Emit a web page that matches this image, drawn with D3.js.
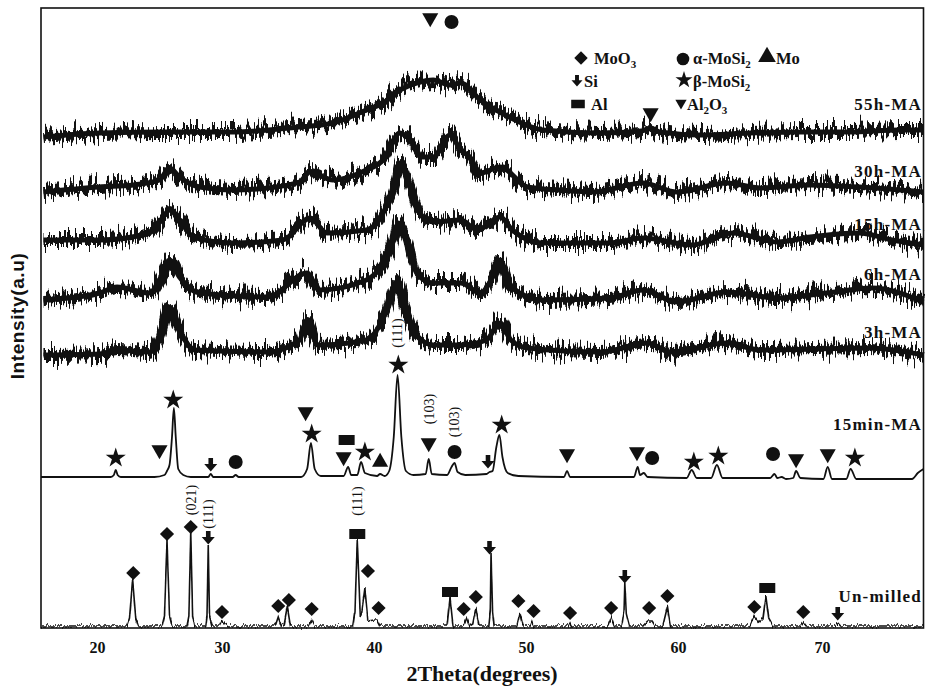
<!DOCTYPE html>
<html>
<head>
<meta charset="utf-8">
<title>XRD patterns</title>
<script src="https://cdn.jsdelivr.net/npm/d3@7"></script>
<style>
    body { margin: 0; background: #fff; }
    text { font-family: "Liberation Serif", "Times New Roman", serif; font-weight: bold; fill: #111; }
</style>
</head>
<body>
<svg width="925" height="693"></svg>
<script>
    // ---- data (2theta in degrees, intensity in a.u. above each pattern's own baseline) ----
    var tickLabels = [20, 30, 40, 50, 60, 70];
    var traceNames = ["Un-milled", "15min-MA", "3h-MA", "6h-MA", "15h-MA", "30h-MA", "55h-MA"];
    var traceOffsets = [2, 151, 275, 328, 388, 438, 495];

    var unmilled = [[15.5,0],[22.4,0],[22.6,8],[22.85,46],[23.1,8],[23.3,0],[25.2,0],[25.4,10],[25.6,86],[25.8,10],[26.0,0],
        [27.2,0],[27.35,10],[27.5,94],[27.65,10],[27.8,0],[28.7,0],[28.8,10],[28.9,81],[29.0,10],[29.2,0],[29.8,0],[30.0,5],[30.2,2],[30.4,0],
        [33.5,0],[33.7,9],[33.9,0],[34.1,2],[34.3,19],[34.5,0],[35.7,0],[35.9,6],[36.1,0],[38.6,0],[38.75,15],[38.9,86],[39.1,10],[39.2,15],
        [39.4,38],[39.6,5],[40.0,6],[40.2,6],[40.4,0],[44.8,0],[45.0,29],[45.2,0],[45.9,0],[46.1,8],[46.3,0],[46.5,2],[46.7,18],[46.9,0],
        [47.55,0],[47.65,15],[47.7,73],[47.8,15],[47.9,0],[49.4,0],[49.6,13],[49.8,0],[50.3,0],[50.4,4],[50.5,0],[52.8,0],[52.9,3],[53.0,0],
        [55.4,0],[55.6,8],[55.8,0],[56.3,0],[56.45,15],[56.5,44],[56.6,12],[56.8,0],[57.7,0],[58.0,5],[58.3,5],[58.5,0],[59.0,0],[59.3,19],
        [59.5,0],[65.0,0],[65.3,10],[65.6,4],[65.9,8],[66.1,30],[66.3,8],[66.6,0],[68.5,0],[68.7,4],[68.9,0],[70.9,0],[71.1,3],[71.3,0],[77.1,0]];

    var min15 = [[15.5,0],[21.1,0],[21.35,2],[21.5,7],[21.65,2],[21.9,0],[24.6,0],[25.4,2],[25.6,6],[25.8,12],[26.0,40],[26.15,69],
        [26.3,40],[26.5,8],[26.9,2],[27.5,0],[28.9,0],[29.1,3],[29.3,0],[30.7,0],[30.9,2],[31.1,0],[35.2,0],[35.6,8],[35.85,34],[36.1,8],
        [36.5,1],[38.0,1],[38.3,10],[38.5,2],[38.9,2],[39.15,15],[39.4,4],[40.2,1],[40.4,3],[40.7,1],[41.0,6],[41.3,40],[41.55,102],
        [41.8,40],[42.1,6],[42.6,2],[43.4,3],[43.6,18],[43.8,3],[44.8,2],[45.1,10],[45.3,14],[45.5,5],[46.0,2],[47.4,3],[47.6,5],
        [47.8,6],[48.05,30],[48.25,42],[48.45,20],[48.8,4],[49.5,1],[52.5,0],[52.7,6],[52.9,0],[57.1,0],[57.35,10],[57.5,2],[57.75,4],
        [58.0,0],[60.6,-1],[60.95,7],[61.3,-1],[62.3,-1],[62.7,12],[63.1,-1],[66.4,-1],[66.7,3],[66.9,-1],[67.2,0],[67.5,-2],[68.0,-1],
        [68.2,6],[68.5,-1],[70.1,-2],[70.4,10],[70.7,-2],[71.7,-2],[72.0,8],[72.4,-2],[76.3,-2],[76.7,4],[77.1,8]];

    var h3 = [[15.7,-2],[20.2,-1],[21.6,3],[24.2,1],[25.0,13],[25.8,46],[26.6,23],[27.8,3],[33.0,1],[35.1,13],[35.6,33],[36.3,8],
        [39.5,13],[40.7,38],[41.5,71],[42.0,48],[42.8,18],[43.9,8],[45.7,8],[47.4,13],[48.3,30],[49.0,13],[50.1,5],[54.9,1],[58.0,10],
        [59.5,1],[63.4,10],[65.7,3],[73.3,5],[77.1,-2]];

    var h6 = [[15.7,0],[20.2,7],[21.6,13],[24.2,7],[25.3,27],[25.8,40],[26.6,23],[28.2,7],[33.0,3],[35.6,27],[36.4,10],[39.5,20],
        [40.6,37],[41.3,60],[41.6,77],[42.2,60],[42.8,27],[43.9,17],[45.7,17],[47.0,7],[47.8,23],[48.3,40],[49.0,13],[51.1,0],[55.5,2],
        [57.7,10],[59.9,-2],[63.4,8],[66.9,2],[70.3,7],[73.5,12],[77.1,-2]];

    var h15 = [[15.7,0],[20.2,0],[24.2,7],[25.3,23],[25.8,30],[26.6,20],[27.7,3],[30.7,-3],[34.0,0],[35.8,22],[36.9,7],[39.5,10],
        [40.6,27],[41.5,63],[41.7,77],[42.4,53],[43.0,27],[43.9,18],[45.7,20],[46.8,10],[48.3,23],[49.1,10],[51.1,-3],[55.5,-3],
        [57.7,2],[61.0,-5],[63.8,7],[66.9,-2],[69.2,3],[72.6,7],[74.9,0],[77.1,-5]];

    var h30 = [[15.7,-2],[20.2,3],[22.9,5],[25.0,10],[25.8,22],[26.6,13],[28.2,3],[30.7,0],[33.0,2],[35.1,8],[35.8,18],[37.3,10],
        [39.5,20],[40.6,30],[41.7,57],[42.4,50],[43.2,33],[43.9,33],[45.0,55],[45.7,40],[46.3,33],[47.0,17],[48.3,23],[50.1,3],
        [52.2,0],[54.4,-2],[57.7,7],[59.9,-2],[63.4,7],[65.7,2],[69.2,5],[72.6,3],[77.1,-2]];

    var h55 = [[15.7,-4],[20.2,0],[25.6,1],[30.7,1],[35.1,6],[37.3,10],[39.5,23],[40.6,30],[41.7,43],[42.8,50],[43.9,53],[45.0,48],
        [45.7,50],[47.0,33],[48.9,16],[51.1,3],[54.9,0],[57.6,2],[58.2,5],[58.8,1],[61.5,-2],[65.0,0],[68.5,1],[71.9,1],[75.4,3],[77.1,3]];

    var traceData = [unmilled, min15, h3, h6, h15, h30, h55];

    // phase markers: [trace index, 2theta, height, phase]
    var phaseMarks = [
        [0,22.9,53,"MoO3"],[0,25.6,92,"MoO3"],[0,27.5,99,"MoO3"],[0,28.9,88,"Si"],[0,30.0,14,"MoO3"],[0,33.7,20,"MoO3"],
        [0,34.4,26,"MoO3"],[0,35.9,17,"MoO3"],[0,38.9,92,"Al"],[0,39.6,55,"MoO3"],[0,40.3,18,"MoO3"],[0,45.0,34,"Al"],
        [0,45.9,17,"MoO3"],[0,46.7,29,"MoO3"],[0,47.6,78,"Si"],[0,49.5,25,"MoO3"],[0,50.5,15,"MoO3"],[0,52.9,13,"MoO3"],
        [0,55.6,18,"MoO3"],[0,56.5,49,"Si"],[0,58.1,18,"MoO3"],[0,59.3,30,"MoO3"],[0,65.3,19,"MoO3"],[0,66.2,38,"Al"],
        [0,68.7,14,"MoO3"],[0,71.1,12,"Si"],
        [1,21.5,19,"b-MoSi2"],[1,25.0,27,"Al2O3"],[1,26.1,77,"b-MoSi2"],[1,29.1,12,"Si"],[1,30.9,15,"a-MoSi2"],[1,35.5,65,"Al2O3"],
        [1,35.9,43,"b-MoSi2"],[1,38.2,37,"Al"],[1,38.0,20,"Al2O3"],[1,39.4,25,"b-MoSi2"],[1,40.4,15,"Mo"],[1,41.6,112,"b-MoSi2"],
        [1,43.6,34,"Al2O3"],[1,45.3,25,"a-MoSi2"],[1,47.5,15,"Si"],[1,48.4,52,"b-MoSi2"],[1,52.7,23,"Al2O3"],[1,57.3,25,"Al2O3"],
        [1,58.3,19,"a-MoSi2"],[1,61.1,15,"b-MoSi2"],[1,62.8,21,"b-MoSi2"],[1,66.6,23,"a-MoSi2"],[1,68.2,18,"Al2O3"],
        [1,70.4,23,"Al2O3"],[1,72.3,19,"b-MoSi2"],
        [6,43.7,115,"Al2O3"],[6,45.1,111,"a-MoSi2"],[6,58.2,20,"Al2O3"]];

    // Miller indices: [trace index, 2theta, height, text]
    var hklLabels = [[1,41.55,144,"(111)"],[1,43.6,68,"(103)"],[1,45.3,55,"(103)"],
        [0,27.5,126,"(021)"],[0,28.9,112,"(111)"],[0,38.9,125,"(111)"]];

    var phaseSymbols = {"MoO3": "diamond", "Si": "arrow", "Al": "rect", "a-MoSi2": "circle",
        "b-MoSi2": "star", "Al2O3": "down", "Mo": "up"};
    var legendPhases = ["MoO3", "a-MoSi2", "Mo", "Si", "b-MoSi2", "Al", "Al2O3"];
    var legendTexts = ["MoO_3", "\u03b1-MoSi_2", "Mo", "Si", "\u03b2-MoSi_2", "Al", "Al_2O_3"];

    // ---- layout ----
    var frame = {left: 41, top: 8, right: 923.5, bottom: 628};
    var svg = d3.select("svg");

    // the printed axis is not evenly spaced, so the scale uses several segments
    var xScale = d3.scaleLinear()
        .domain([15.5, 20, 30, 40, 50, 60, 70, 77.1])
        .range([frame.left, 97, 222, 374, 526, 678, 822, frame.right]);
    var yScale = d3.scaleLinear()
        .domain([0, 620])
        .range([frame.bottom, frame.bottom - 620]);

    var labelPos = [[922, 602], [922, 430], [922, 338], [922, 280], [922, 230], [922, 177], [922, 110]];
    var legendPos = [[581, 58, 594, 64], [683, 59, 693, 64], [767, 57, 776, 64],
        [577, 81, 584, 87], [684, 80, 693, 87], [578, 104, 591, 110], [681, 103, 687, 110]];

    // noise texture filters for the measured bands
    var defs = svg.append("defs");
    function roughFilter(id, freq, scale, seed) {
        var f = defs.append("filter").attr("id", id)
            .attr("filterUnits", "userSpaceOnUse")
            .attr("x", 0).attr("y", 0).attr("width", 925).attr("height", 693)
            .attr("color-interpolation-filters", "sRGB");
        f.append("feTurbulence").attr("type", "fractalNoise").attr("baseFrequency", freq)
            .attr("numOctaves", 2).attr("seed", seed).attr("result", "noise");
        f.append("feColorMatrix").attr("in", "noise").attr("type", "matrix")
            .attr("values", "0 0 0 0 0.5  0 1 0 0 0  0 0 0 0 0  0 0 0 0 1").attr("result", "map");
        f.append("feDisplacementMap").attr("in", "SourceGraphic").attr("in2", "map")
            .attr("scale", scale).attr("xChannelSelector", "R").attr("yChannelSelector", "G");
    }
    roughFilter("rough", "0.45 0.02", 32, 7);
    roughFilter("rough2", "0.7 0.05", 7, 3);

    // frame
    svg.append("rect")
        .attr("x", frame.left).attr("y", frame.top)
        .attr("width", frame.right - frame.left).attr("height", frame.bottom - frame.top)
        .attr("fill", "none").attr("stroke", "#111").attr("stroke-width", 1.6);

    // x axis labels
    var xAxis = d3.axisBottom(xScale).tickValues(tickLabels).tickSize(0).tickPadding(14);
    var gx = svg.append("g").attr("transform", "translate(0," + frame.bottom + ")").call(xAxis);
    gx.select(".domain").remove();
    gx.selectAll("text")
        .style("font-family", "'Liberation Serif', serif")
        .style("font-weight", "bold").style("font-size", "16px").attr("fill", "#111");

    svg.append("text")
        .attr("x", 482).attr("y", 681)
        .attr("text-anchor", "middle")
        .style("font-size", "22px")
        .text("2Theta(degrees)");

    svg.append("text")
        .attr("transform", "translate(24,316) rotate(-90)")
        .attr("text-anchor", "middle")
        .style("font-family", "'Liberation Sans', Arial, sans-serif")
        .style("font-size", "19px").style("letter-spacing", "0.6px")
        .text("Intensity(a.u)");

    // patterns
    function lineFor(k, curve) {
        return d3.line()
            .x(function (d) { return xScale(d[0]); })
            .y(function (d) { return yScale(traceOffsets[k] + d[1]); })
            .curve(curve);
    }

    // solid core of each noisy band, then the rough outer part
    var core = svg.append("g");
    var noisy = svg.append("g").attr("filter", "url(#rough)");
    for (var k = 2; k < traceData.length; k++) {
        core.append("path")
            .datum(traceData[k])
            .attr("d", lineFor(k, d3.curveMonotoneX))
            .attr("fill", "none").attr("stroke", "#111")
            .attr("stroke-width", 5).attr("stroke-linejoin", "round");
        noisy.append("path")
            .datum(traceData[k])
            .attr("d", lineFor(k, d3.curveMonotoneX))
            .attr("fill", "none").attr("stroke", "#111")
            .attr("stroke-width", 10).attr("stroke-linejoin", "round");
    }

    svg.append("path")
        .datum(min15)
        .attr("d", lineFor(1, d3.curveMonotoneX))
        .attr("fill", "none").attr("stroke", "#111").attr("stroke-width", 1.8);

    svg.append("g").attr("filter", "url(#rough2)")
        .append("path")
        .datum(unmilled)
        .attr("d", lineFor(0, d3.curveLinear))
        .attr("fill", "none").attr("stroke", "#111").attr("stroke-width", 1.6);

    // pattern names
    svg.selectAll(".tname")
        .data(traceNames)
        .enter().append("text")
        .attr("class", "tname")
        .attr("x", function (d, i) { return labelPos[i][0]; })
        .attr("y", function (d, i) { return labelPos[i][1]; })
        .attr("text-anchor", "end")
        .style("font-size", "17px").style("letter-spacing", "1.2px")
        .text(function (d) { return d; });

    // phase symbols
    function drawSymbol(g, type, cx, cy, s) {
        var p;
        if (type === "star") {
            p = g.append("path").attr("d", d3.symbol().type(d3.symbolStar).size(125 * s * s)());
        } else if (type === "down" || type === "up") {
            p = g.append("path").attr("d", d3.symbol().type(d3.symbolTriangle).size(112 * s * s)());
            if (type === "down") p.attr("transform", "rotate(180)");
        } else if (type === "circle") {
            p = g.append("path").attr("d", d3.symbol().type(d3.symbolCircle).size(154 * s * s)());
        } else if (type === "diamond") {
            p = g.append("path").attr("d", d3.symbol().type(d3.symbolSquare).size(100 * s * s)())
                .attr("transform", "rotate(45)");
        } else if (type === "rect") {
            p = g.append("rect").attr("x", -8 * s).attr("y", -5 * s).attr("width", 16 * s).attr("height", 10 * s);
        } else if (type === "arrow") {
            p = g.append("path").attr("d", "M-2.3,-7 h4.6 v6 h4.2 l-6.5,7.5 l-6.5,-7.5 h4.2 z")
                .attr("transform", "scale(" + s + ")");
        }
        p.attr("fill", "#111");
        g.attr("transform", "translate(" + cx + "," + cy + ")");
    }

    phaseMarks.forEach(function (m) {
        var g = svg.append("g");
        drawSymbol(g, phaseSymbols[m[3]], xScale(m[1]), yScale(traceOffsets[m[0]] + m[2]), 1);
    });

    hklLabels.forEach(function (h) {
        svg.append("text")
            .attr("transform", "translate(" + xScale(h[1]) + "," + yScale(traceOffsets[h[0]] + h[2]) + ") rotate(-90)")
            .attr("text-anchor", "middle").attr("dy", "0.35em")
            .style("font-size", "14px").style("font-weight", "normal")
            .text(h[3]);
    });

    // legend
    var legendScale = {"MoO3": 0.95, "a-MoSi2": 0.9, "Mo": 1.1, "Si": 0.85, "b-MoSi2": 0.85, "Al": 0.85, "Al2O3": 0.7};
    legendPhases.forEach(function (ph, i) {
        var pos = legendPos[i];
        var g = svg.append("g");
        drawSymbol(g, phaseSymbols[ph], pos[0], pos[1], legendScale[ph]);
        var t = svg.append("text").attr("x", pos[2]).attr("y", pos[3]).style("font-size", "16.5px");
        var parts = legendTexts[i].split("_");
        t.append("tspan").text(parts[0]);
        for (var j = 1; j < parts.length; j++) {
            t.append("tspan").attr("dy", 4).style("font-size", "11px").text(parts[j].charAt(0));
            if (parts[j].length > 1) t.append("tspan").attr("dy", -4).text(parts[j].slice(1));
        }
    });
</script>
</body>
</html>
